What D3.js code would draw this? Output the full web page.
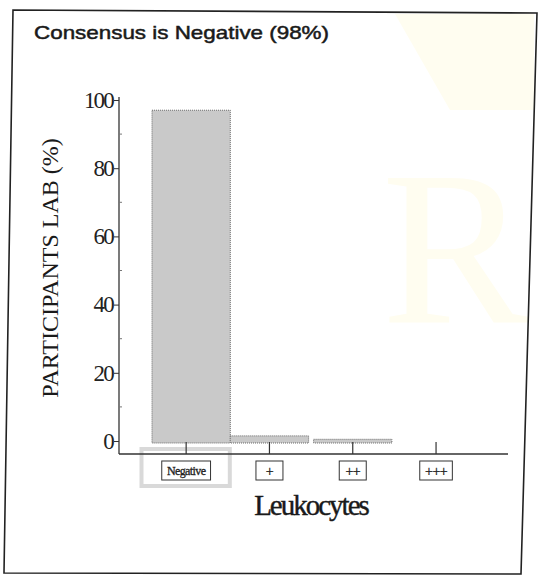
<!DOCTYPE html>
<html>
<head>
    <title>Leukocytes consensus</title>
    <script src="https://d3js.org/d3.v7.min.js"></script>
    <style>
        body { margin: 0; background: #fff; }
    </style>
</head>
<body>
    <script>
        // data
        var categories = ["Negative", "+", "++", "+++"];
        var percents = [97, 1.5, 0.5, 0];
        var yTicks = [0, 20, 40, 60, 80, 100];
        var yMinorTicks = [10, 30, 50, 70, 90];
        var title = "Consensus is Negative (98%)";
        var consensus = "Negative";

        var width = 539, height = 576;

        var svg = d3.select("body")
            .append("svg")
            .attr("width", width)
            .attr("height", height);

        // faint watermark in the background
        var wm = svg.append("g").attr("fill", "#fffdf0");
        wm.append("path")
            .attr("d", "M395,14 L534,14 L534,110 L450,110 Z");
        wm.append("text")
            .attr("x", 455).attr("y", 322)
            .attr("text-anchor", "middle")
            .style("font-family", "Liberation Serif, serif")
            .style("font-size", "220px")
            .text("R");

        // scanned frame, a little skewed
        svg.append("path")
            .attr("d", "M13,10 L537,13 L521,574 L4,573 Z")
            .attr("fill", "none")
            .attr("stroke", "#222")
            .attr("stroke-width", 1.6);

        svg.append("text")
            .attr("x", 34).attr("y", 39)
            .attr("textLength", 295)
            .attr("lengthAdjust", "spacingAndGlyphs")
            .style("font-family", "Liberation Sans, Arial, sans-serif")
            .style("font-size", "19px")
            .attr("fill", "#1a1a1a")
            .attr("stroke", "#1a1a1a")
            .attr("stroke-width", 0.5)
            .text(title);

        var x = d3.scaleBand()
            .domain(categories)
            .range([144.5, 477.7])
            .padding(0);

        var y = d3.scaleLinear()
            .domain([0, 100])
            .range([441, 100]);

        var axisY = 454;
        var axisX = 119;

        // highlight box round the consensus label
        svg.append("rect")
            .attr("x", x(consensus) - 3)
            .attr("y", 449)
            .attr("width", x.bandwidth() + 5)
            .attr("height", 37)
            .attr("fill", "none")
            .attr("stroke", "#d9d9d9")
            .attr("stroke-width", 4);

        // bars
        var barW = x.bandwidth() * 0.94;
        svg.append("g")
            .selectAll("rect")
            .data(percents.filter(function(d) { return d > 0; }))
            .join("rect")
            .attr("x", function(d, i) { return x(categories[i]) + (x.bandwidth() - barW) / 2 + (i === 0 ? 5 : 0); })
            .attr("y", function(d) { return y(d); })
            .attr("width", barW)
            .attr("height", function(d) { return Math.max(2, y(0) - y(d) + 2); })
            .attr("fill", "#c9c9c9")
            .attr("stroke", "#6a6a6a")
            .attr("stroke-width", 1)
            .attr("stroke-dasharray", "1,1");

        // y axis
        var gy = svg.append("g")
            .attr("transform", "translate(" + axisX + ",0)")
            .call(d3.axisLeft(y).tickValues(yTicks).tickSize(5).tickPadding(1));
        gy.select(".domain")
            .attr("d", "M0," + (y(100) - 3) + "V" + axisY)
            .attr("stroke", "#333")
            .attr("stroke-width", 1.3);
        gy.selectAll(".tick line").attr("stroke", "#333");
        gy.selectAll(".tick text")
            .style("font-family", "Liberation Serif, serif")
            .style("font-size", "23px")
            .style("letter-spacing", "-1.8px")
            .attr("fill", "#222");

        svg.append("g")
            .selectAll("line")
            .data(yMinorTicks)
            .join("line")
            .attr("x1", axisX).attr("x2", axisX + 3)
            .attr("y1", function(d) { return y(d); })
            .attr("y2", function(d) { return y(d); })
            .attr("stroke", "#777");

        // x axis
        svg.append("line")
            .attr("x1", axisX).attr("x2", 508)
            .attr("y1", axisY).attr("y2", axisY)
            .attr("stroke", "#333")
            .attr("stroke-width", 1.5);

        svg.append("g")
            .selectAll("line")
            .data(categories)
            .join("line")
            .attr("x1", function(d) { return x(d) + x.bandwidth() / 2; })
            .attr("x2", function(d) { return x(d) + x.bandwidth() / 2; })
            .attr("y1", axisY)
            .attr("y2", axisY - 12)
            .attr("stroke", "#333")
            .attr("stroke-width", 1.2);

        // boxed category labels
        var lab = svg.append("g")
            .selectAll("g")
            .data(categories)
            .join("g")
            .attr("transform", function(d) { return "translate(" + (x(d) + x.bandwidth() / 2) + ",471)"; });

        lab.append("text")
            .attr("text-anchor", "middle")
            .attr("dy", "0.35em")
            .style("font-family", "Liberation Serif, serif")
            .style("font-size", function(d) { return d === consensus ? "12px" : "14px"; })
            .style("letter-spacing", "-0.6px")
            .attr("fill", "#222")
            .attr("stroke", "#222")
            .attr("stroke-width", 0.3)
            .text(function(d) { return d; });

        lab.insert("rect", "text")
            .each(function(d) {
                var t = d3.select(this.parentNode).select("text").node().getBBox();
                var w = Math.max(t.width + 10, 27);
                d3.select(this)
                    .attr("x", -w / 2)
                    .attr("y", -10)
                    .attr("width", w)
                    .attr("height", 19);
            })
            .attr("fill", "#fff")
            .attr("stroke", "#333")
            .attr("stroke-width", 1);

        // axis titles
        svg.append("text")
            .attr("x", 311).attr("y", 515)
            .attr("text-anchor", "middle")
            .style("font-family", "Liberation Serif, serif")
            .style("font-size", "29px")
            .style("letter-spacing", "-2px")
            .attr("fill", "#1a1a1a")
            .attr("stroke", "#1a1a1a")
            .attr("stroke-width", 0.4)
            .text("Leukocytes");

        svg.append("text")
            .attr("transform", "translate(58,268) rotate(-90)")
            .attr("text-anchor", "middle")
            .style("font-family", "Liberation Serif, serif")
            .style("font-size", "24px")
            .attr("fill", "#1a1a1a")
            .text("PARTICIPANTS LAB (%)");
    </script>
</body>
</html>
